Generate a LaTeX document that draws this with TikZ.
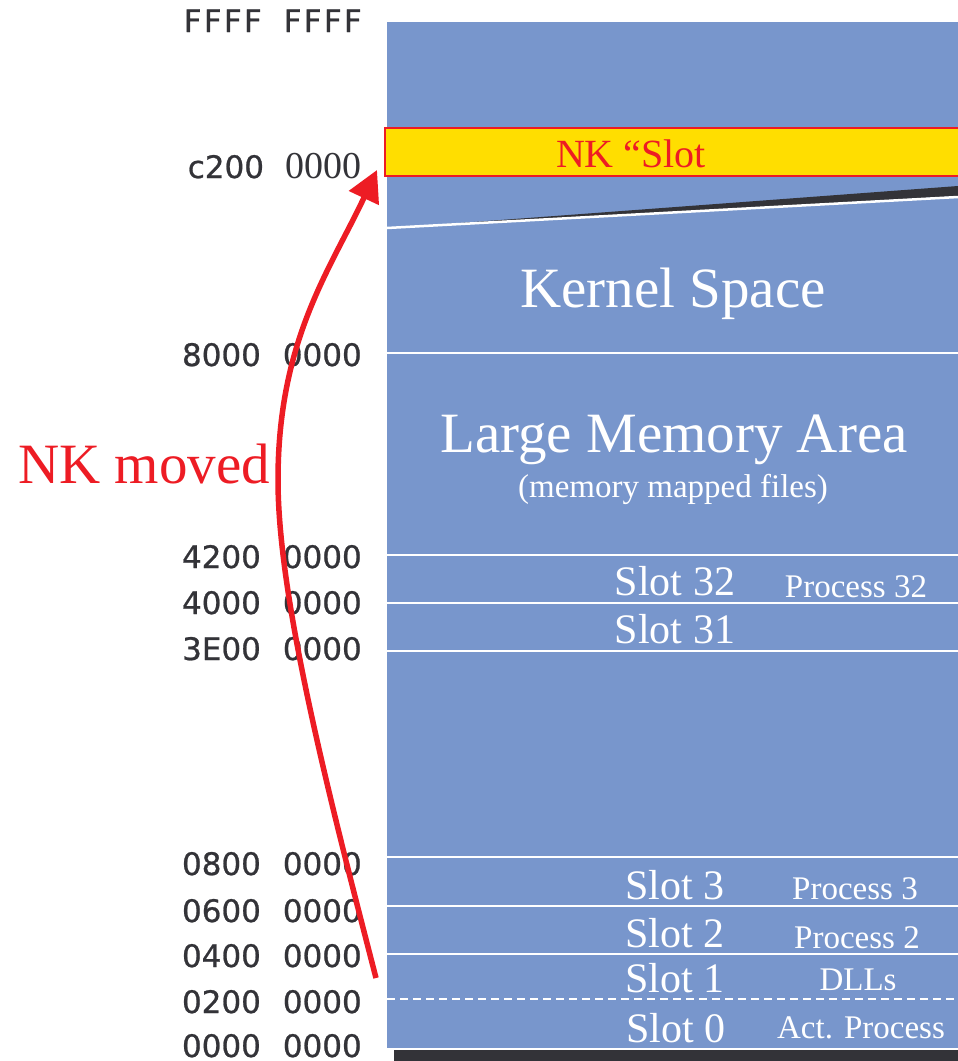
\documentclass[tikz,border=0pt]{standalone}
\usepackage{fontspec}
\setmainfont{Liberation Serif}
\newfontfamily\addrfont[FakeBold=0.8]{DejaVu Sans}
\usetikzlibrary{arrows.meta}
\definecolor{memblue}{RGB}{120,150,204}
\definecolor{nkyellow}{RGB}{255,222,0}
\definecolor{nkred}{RGB}{237,28,36}
\definecolor{darkgraytxt}{RGB}{51,51,56}
\newcommand{\addrword}[1]{\makebox[78pt][s]{#1}}
\begin{document}
\begin{tikzpicture}[x=1pt,y=-1pt,
  addr/.style={anchor=base east, inner sep=0pt, text=darkgraytxt, font=\addrfont\fontsize{31}{36}\selectfont},
  bigtxt/.style={anchor=base, inner sep=0pt, text=white, font=\fontsize{57}{68}\selectfont},
  slotlbl/.style={anchor=base, inner sep=0pt, text=white, font=\fontsize{42}{50}\selectfont},
  proclbl/.style={anchor=base, inner sep=0pt, text=white, font=\fontsize{33}{40}\selectfont},
  sepline/.style={draw=white, line width=2pt},
]
\useasboundingbox (0,0) rectangle (958,1061);
% memory column
\fill[memblue] (387,22) rectangle (958,1048);
\fill[darkgraytxt] (394,1050) rectangle (958,1061);
% break in the column
\fill[darkgraytxt] (420,226) -- (958,186) -- (958,196) -- cycle;
\draw[white, line width=2.5pt] (387,228) -- (958,197);
% separators
\foreach \yy in {353,555,603,651,857,906,954}
  \draw[sepline] (387,\yy) -- (958,\yy);
\draw[sepline, dash pattern=on 8pt off 5pt] (387,999) -- (958,999);
% NK slot
\node (nkslot) [rectangle, draw=nkred, fill=nkyellow, line width=2pt, minimum width=578pt, minimum height=48pt, anchor=north west, inner sep=0pt] at (384,127) {};
\node (nklbl) [anchor=base, inner sep=0pt, text=nkred, font=\fontsize{40}{48}\selectfont] at (631,167) {NK “Slot};
% address labels
\node (aFFFF) [addr] at (362,32) {\addrword{F\hfil F\hfil F\hfil F}\hspace{22pt}\addrword{F\hfil F\hfil F\hfil F}};
\node (aC200) [addr] at (362,178) {\addrword{c200}\hspace{20pt}{\rmfamily\fontsize{38}{44}\selectfont 0000}};
\node (a8000) [addr] at (362,366) {8000\hspace{22pt}0000};
\node (a4200) [addr] at (362,568) {4200\hspace{22pt}0000};
\node (a4000) [addr] at (362,614) {4000\hspace{22pt}0000};
\node (a3E00) [addr] at (362,660) {3E00\hspace{22pt}0000};
\node (a0800) [addr] at (362,875) {0800\hspace{22pt}0000};
\node (a0600) [addr] at (362,922) {0600\hspace{22pt}0000};
\node (a0400) [addr] at (362,967) {0400\hspace{22pt}0000};
\node (a0200) [addr] at (362,1013) {0200\hspace{22pt}0000};
\node (a0000) [addr] at (362,1057) {0000\hspace{22pt}0000};
% area labels
\node (kernel) [bigtxt] at (673,307) {Kernel Space};
\node (lma) [bigtxt] at (674,452) {Large Memory Area};
\node (mmf) [anchor=base, inner sep=0pt, text=white, font=\fontsize{33}{40}\selectfont] at (673,497) {(memory mapped files)};
\node (s32) [slotlbl] at (675,595) {Slot 32};
\node (p32) [proclbl] at (856,597) {Process 32};
\node (s31) [slotlbl] at (675,643) {Slot 31};
\node (s3) [slotlbl] at (675,899) {Slot 3};
\node (p3) [proclbl] at (855,899) {Process 3};
\node (s2) [slotlbl] at (675,947) {Slot 2};
\node (p2) [proclbl] at (857,948) {Process 2};
\node (s1) [slotlbl] at (675,992) {Slot 1};
\node (dlls) [proclbl] at (858,990) {DLLs};
\node (s0) [slotlbl] at (676,1042) {Slot 0};
\node (act) [proclbl] at (861,1038) {Act. Process};
% NK moved arrow
\node (moved) [anchor=base, inner sep=0pt, text=nkred, font=\fontsize{57}{68}\selectfont] at (144,483) {NK moved};
\coordinate (arrowfrom) at (376,978);
\coordinate (arrowto) at (377,170);
\draw[nkred, line width=5.5pt, -{Triangle[length=31pt,width=32pt]}]
  (arrowfrom) .. controls (330,800) and (278,600) .. (278,480)
  .. controls (278,340) and (330,270) .. (arrowto);
\end{tikzpicture}
\end{document}
